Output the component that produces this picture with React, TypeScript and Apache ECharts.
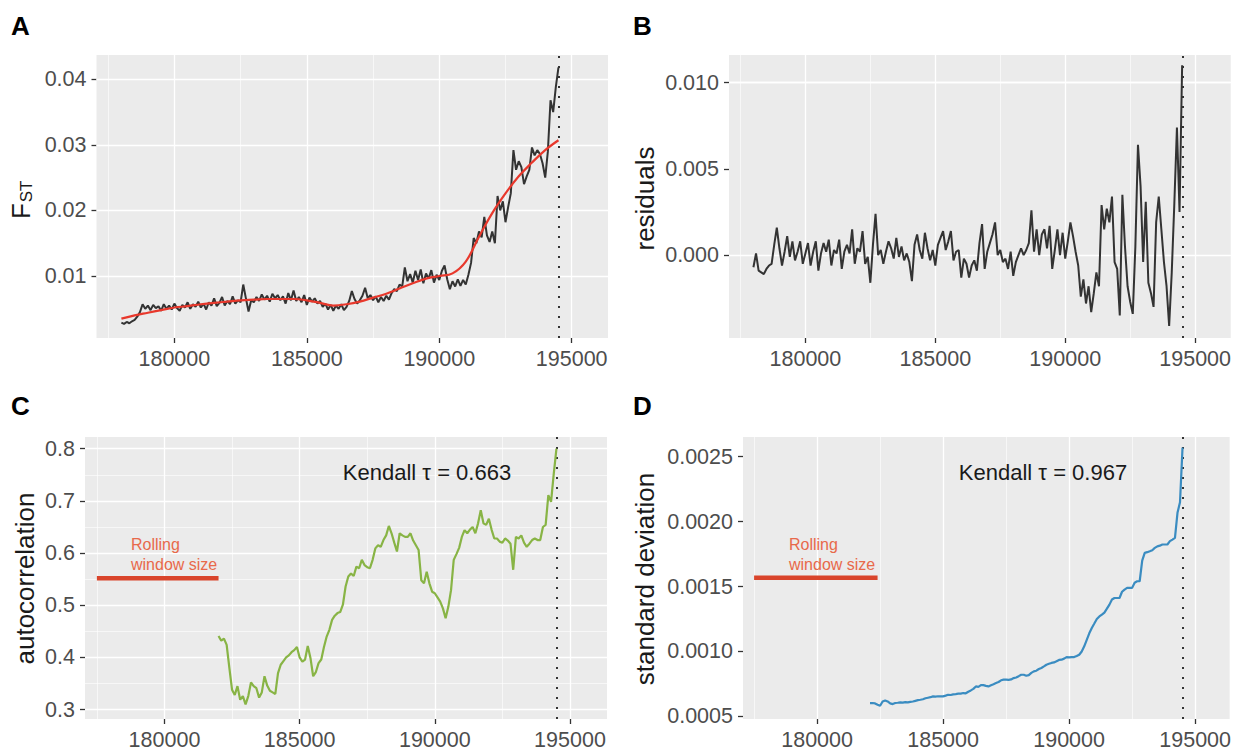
import React, { useEffect, useRef } from "react";
import * as echarts from "echarts";

// ---------- shared x axis ----------
const X_MIN = 177060;
const X_MAX = 196370;
const X_TICKS = [180000, 185000, 190000, 195000];
const X_MINOR = [177500, 182500, 187500, 192500];
const TIP_X = 194510;

// ---------- Panel A: FST ----------
const FST_START = 178000;
const FST_STEP = 100;
const FST = [
  0.0029, 0.0027, 0.003, 0.0028, 0.0031, 0.0033, 0.0038, 0.0045, 0.0057, 0.005,
  0.0055, 0.0048, 0.0056, 0.0051, 0.0054, 0.0047, 0.0057, 0.005, 0.0055, 0.0049,
  0.0058, 0.0051, 0.0047, 0.0056, 0.0052, 0.006, 0.005, 0.0057, 0.0053, 0.0061,
  0.0052, 0.0058, 0.0049, 0.006, 0.0055, 0.0066, 0.0054, 0.0059, 0.0068, 0.0055,
  0.0062, 0.0057, 0.0069, 0.0058, 0.0063, 0.006, 0.0087, 0.0066, 0.0046, 0.0063,
  0.006, 0.0068, 0.0062, 0.0072, 0.0064, 0.007, 0.0061, 0.0073, 0.0066, 0.0071,
  0.0063, 0.0069, 0.0058, 0.0074, 0.0063, 0.0078, 0.0062, 0.0068, 0.006, 0.0071,
  0.0056, 0.0067, 0.0061, 0.0066, 0.0058, 0.0062, 0.0053, 0.0058, 0.0049, 0.0056,
  0.0047, 0.0055, 0.005, 0.0057, 0.0048, 0.0053, 0.0062, 0.0077, 0.0065, 0.0058,
  0.0063, 0.007, 0.0082, 0.0066, 0.0071, 0.0063, 0.0069, 0.006, 0.0068, 0.0062,
  0.007, 0.0064, 0.0074, 0.008, 0.0077, 0.0087, 0.0084, 0.0113, 0.0092, 0.0103,
  0.009, 0.0108, 0.0094, 0.011, 0.0089, 0.0104, 0.0096, 0.0109, 0.009, 0.0102,
  0.0094, 0.0108, 0.0116, 0.0095, 0.008, 0.0092, 0.0084, 0.0095, 0.0085, 0.0094,
  0.0087, 0.0102, 0.012, 0.0158, 0.015, 0.0168, 0.0159, 0.019, 0.0162, 0.0152,
  0.0168, 0.015, 0.0222, 0.02, 0.0214, 0.0182, 0.0205, 0.0226, 0.0292, 0.0262,
  0.0275, 0.0266, 0.024, 0.0252, 0.0262, 0.0296, 0.0284, 0.0292, 0.0286, 0.0272,
  0.025, 0.029, 0.0368, 0.035, 0.0388, 0.0418,
];
const FST_SMOOTH_START = 178000;
const FST_SMOOTH_STEP = 500;
const FST_SMOOTH = [
  0.0035, 0.004, 0.0044, 0.0048, 0.0052, 0.0054, 0.0057, 0.0059, 0.0061, 0.0063,
  0.0064, 0.0065, 0.0065, 0.0065, 0.0063, 0.0059, 0.0055, 0.0057, 0.0061, 0.0067,
  0.0073, 0.0081, 0.0089, 0.0096, 0.01, 0.0104, 0.0122, 0.016, 0.0196, 0.0226,
  0.0252, 0.0273, 0.0292, 0.0307,
];
const FST_TICKS = [0.01, 0.02, 0.03, 0.04];
const FST_MINOR = [0.005, 0.015, 0.025, 0.035];

// ---------- Panel B: residuals ----------
const RESID_START = 178000;
const RESID_STEP = 100;
const RESID = [
  -0.0007, 0.0001, -0.0009, -0.001, -0.0011, -0.0008, -0.0006, -0.0005, 0.0006, 0.0016,
  0.0004, -0.0006, 0.0002, 0.0011, -0.0001, 0.0008, -0.0003, 0.0002, 0.0008, -0.0005,
  0.0001, 0.0007, -0.0006, 0.0002, 0.0008, -0.0009, 0.0001, 0.0007, 0.0002, 0.0009,
  -0.0006, 0.0003, 0.0001, 0.0009, -0.0008, 0.0002, 0.0006, 0.0001, 0.0015, -0.0005,
  0.0004, 0.0002, 0.0014, -0.0005, -0.0001, -0.0016, 0.0006, 0.0024, 0.0, 0.0003,
  -0.0005, 0.0002, 0.0008, 0.0004, -0.0002, 0.001, -0.0001, 0.0005, -0.0003, 0.0001,
  -0.0004, -0.0015, 0.0006, 0.0012, 0.0003, -0.0002, 0.0013, 0.0004, -0.0003, 0.0003,
  -0.0006, 0.0006, 0.001, 0.0014, 0.0003, 0.0008, 0.0014, -0.0003, 0.0002, 0.0003,
  -0.0013, -0.0002, -0.0005, -0.0013, -0.0006, -0.0003, -0.0009, 0.0007, 0.0018, -0.0008,
  0.0002, 0.0007, 0.0012, 0.0019, 0.0, 0.0003, -0.0004, -0.0002, -0.0008, 0.0002,
  -0.0012, -0.0004, 0.0, 0.0004, 0.0, 0.0003, 0.0007, 0.0026, 0.0002, 0.0015,
  0.0, 0.0012, 0.0015, 0.0004, 0.0017, -0.0008, 0.0003, 0.0015, 0.0, 0.0013,
  -0.0002, 0.0008, 0.0019, 0.0011, 0.0002, -0.0006, -0.0024, -0.0014, -0.0028, -0.0018,
  -0.0033, -0.0022, -0.001, -0.0018, 0.0029, 0.0015, 0.0027, 0.0019, 0.0034, -0.0004,
  -0.0008, -0.0035, 0.0035, 0.0005, -0.0018, -0.0027, -0.0034, 0.0005, 0.0064, 0.004,
  -0.0004, 0.0031, -0.0016, -0.0022, -0.003, 0.0019, 0.0034, 0.0015, -0.0004, -0.0018,
  -0.0041, -0.001, 0.003, 0.0074, 0.0025, 0.011,
];
const RESID_TICKS = [0, 0.005, 0.01];
const RESID_MINOR = [-0.0025, 0.0025, 0.0075];

// ---------- Panel C: autocorrelation ----------
const AC_START = 182000;
const AC_STEP = 100;
const AC = [
  0.441, 0.432, 0.436, 0.424, 0.38, 0.338, 0.328, 0.345, 0.319, 0.326,
  0.31, 0.326, 0.352, 0.345, 0.341, 0.323, 0.333, 0.364, 0.346, 0.336,
  0.333, 0.33, 0.37, 0.386, 0.393, 0.4, 0.404, 0.41, 0.414, 0.42,
  0.4, 0.392, 0.396, 0.422, 0.399, 0.364, 0.372, 0.389, 0.396, 0.42,
  0.44, 0.453, 0.472, 0.48, 0.485, 0.487, 0.501, 0.536, 0.555, 0.561,
  0.556, 0.574, 0.571, 0.587, 0.577, 0.573, 0.571, 0.587, 0.609, 0.615,
  0.612, 0.625, 0.634, 0.652, 0.638, 0.62, 0.603, 0.638, 0.634, 0.631,
  0.631, 0.638, 0.624, 0.615, 0.606, 0.548, 0.542, 0.564, 0.542, 0.526,
  0.523, 0.515, 0.507, 0.494, 0.475, 0.497, 0.529, 0.587, 0.598, 0.61,
  0.631, 0.644, 0.638, 0.645, 0.65, 0.638, 0.657, 0.682, 0.657, 0.654,
  0.666, 0.645, 0.628, 0.628, 0.622, 0.62, 0.628, 0.624, 0.618, 0.568,
  0.631, 0.628, 0.634, 0.62, 0.612, 0.618, 0.625, 0.628, 0.625, 0.625,
  0.65, 0.654, 0.711, 0.698, 0.752, 0.8,
];
const AC_TICKS = [0.3, 0.4, 0.5, 0.6, 0.7, 0.8];
const AC_MINOR = [0.35, 0.45, 0.55, 0.65, 0.75];
const AC_WINDOW_X = [177500, 182000];
const AC_WINDOW_Y = 0.552;
const AC_KENDALL = "Kendall \u03c4 = 0.663";

// ---------- Panel D: standard deviation ----------
const SD_START = 182100;
const SD_STEP = 100;
const SD = [
  0.000603, 0.000603, 0.0006, 0.00059, 0.000582, 0.000615, 0.000623, 0.000615, 0.0006,
  0.000595, 0.000603, 0.000605, 0.000608, 0.000606, 0.00061, 0.000608, 0.000612, 0.000615, 0.00062,
  0.000625, 0.000628, 0.000632, 0.00064, 0.000644, 0.000648, 0.000654, 0.000652, 0.000655, 0.000654,
  0.000654, 0.00066, 0.000667, 0.000665, 0.00067, 0.000672, 0.000675, 0.000675, 0.00068, 0.000678,
  0.00069, 0.0007, 0.000712, 0.000731, 0.000728, 0.000741, 0.000741, 0.000735, 0.000731, 0.00074,
  0.000748, 0.000757, 0.000765, 0.000778, 0.000783, 0.000783, 0.000782, 0.000785, 0.000795, 0.0008,
  0.00081, 0.000821, 0.000821, 0.000813, 0.000818, 0.000835, 0.000847, 0.000852, 0.000865, 0.000873,
  0.000885, 0.000898, 0.000905, 0.000912, 0.000916, 0.000925, 0.000935, 0.000937, 0.000945, 0.000957,
  0.000955, 0.000957, 0.000957, 0.000965, 0.000975, 0.001, 0.00104, 0.00109, 0.00114, 0.001181,
  0.001215, 0.00125, 0.00127, 0.001284, 0.0013, 0.00133, 0.001361, 0.0014, 0.001412, 0.001412,
  0.001412, 0.00146, 0.001477, 0.00149, 0.00149, 0.00149, 0.00153, 0.001541, 0.001541, 0.0017,
  0.00176, 0.001765, 0.001772, 0.00178, 0.001798, 0.00181, 0.001815, 0.001824, 0.001824, 0.001824,
  0.00185, 0.001862, 0.001875, 0.002068, 0.00215, 0.00257,
];
const SD_TICKS = [0.0005, 0.001, 0.0015, 0.002, 0.0025];
const SD_MINOR = [0.00075, 0.00125, 0.00175, 0.00225];
const SD_WINDOW_X = [177500, 182400];
const SD_WINDOW_Y = 0.001567;
const SD_KENDALL = "Kendall \u03c4 = 0.967";

const FONT = "'Liberation Sans', Arial, Helvetica, sans-serif";
const BG = "#EBEBEB";
const LABEL_COLOR = "#4D4D4D";
const TITLE_COLOR = "#1A1A1A";

function pairs(start: number, step: number, values: number[]) {
  return values.map((v, i) => [start + i * step, v]);
}

function gridLines(yTicks: number[], yMinor: number[]) {
  return {
    silent: true,
    symbol: ["none", "none"],
    label: { show: false },
    z: 1,
    animation: false,
    lineStyle: { color: "#FFFFFF", type: "solid", width: 1.3 },
    emphasis: { disabled: true },
    data: [
      ...X_MINOR.map((v) => ({ xAxis: v, lineStyle: { color: "#FFFFFF", width: 0.6, type: "solid" } })),
      ...yMinor.map((v) => ({ yAxis: v, lineStyle: { color: "#FFFFFF", width: 0.6, type: "solid" } })),
      ...X_TICKS.map((v) => ({ xAxis: v, lineStyle: { color: "#FFFFFF", width: 1.3, type: "solid" } })),
      ...yTicks.map((v) => ({ yAxis: v, lineStyle: { color: "#FFFFFF", width: 1.3, type: "solid" } })),
      { xAxis: TIP_X, lineStyle: { color: "#333333", width: 2, type: [2, 8] } },
    ],
  };
}

const PANELS = [
  { grid: { left: 96.5, top: 55, width: 511.5, height: 283 }, yMin: 0.00055, yMax: 0.0437, yTicks: FST_TICKS, yMinor: FST_MINOR, digits: 2 },
  { grid: { left: 729, top: 55, width: 507, height: 283 }, yMin: -0.0048, yMax: 0.0116, yTicks: RESID_TICKS, yMinor: RESID_MINOR, digits: 3 },
  { grid: { left: 85, top: 437, width: 522, height: 282 }, yMin: 0.282, yMax: 0.8225, yTicks: AC_TICKS, yMinor: AC_MINOR, digits: 1 },
  { grid: { left: 743, top: 437, width: 495, height: 282 }, yMin: 0.00048, yMax: 0.002652, yTicks: SD_TICKS, yMinor: SD_MINOR, digits: 4 },
];

function buildOption() {
  const grid = PANELS.map((p) => ({
    ...p.grid,
    show: true,
    backgroundColor: BG,
    borderWidth: 0,
    containLabel: false,
  }));
  const xAxis = PANELS.map((_, i) => ({
    type: "value",
    gridIndex: i,
    min: X_MIN,
    max: X_MAX,
    axisLine: { show: false, onZero: false },
    axisTick: { show: true, length: 5, customValues: X_TICKS, lineStyle: { color: "#333333", width: 1.3 } },
    axisLabel: {
      customValues: X_TICKS,
      margin: 10,
      fontSize: 21.5,
      color: LABEL_COLOR,
      fontFamily: FONT,
      formatter: (v: number) => String(v),
    },
    splitLine: { show: false },
  }));
  const yAxis = PANELS.map((p, i) => ({
    type: "value",
    gridIndex: i,
    min: p.yMin,
    max: p.yMax,
    axisLine: { show: false, onZero: false },
    axisTick: { show: true, length: 5, customValues: p.yTicks, lineStyle: { color: "#333333", width: 1.3 } },
    axisLabel: {
      customValues: p.yTicks,
      margin: 10,
      fontSize: 21.5,
      color: LABEL_COLOR,
      fontFamily: FONT,
      formatter: (v: number) => v.toFixed(p.digits),
    },
    splitLine: { show: false },
  }));

  const baseLine = (color: string, width: number) => ({
    type: "line",
    showSymbol: false,
    symbol: "none",
    silent: true,
    lineStyle: { color, width },
    emphasis: { disabled: true },
    z: 10,
  });

  const series: any[] = [
    {
      ...baseLine("#333333", 2),
      name: "FST",
      xAxisIndex: 0,
      yAxisIndex: 0,
      data: pairs(FST_START, FST_STEP, FST),
      markLine: gridLines(FST_TICKS, FST_MINOR),
    },
    {
      ...baseLine("#E8382C", 2.2),
      name: "FST smooth",
      xAxisIndex: 0,
      yAxisIndex: 0,
      smooth: 0.4,
      z: 11,
      data: pairs(FST_SMOOTH_START, FST_SMOOTH_STEP, FST_SMOOTH),
    },
    {
      ...baseLine("#333333", 2),
      name: "residuals",
      xAxisIndex: 1,
      yAxisIndex: 1,
      data: pairs(RESID_START, RESID_STEP, RESID),
      markLine: gridLines(RESID_TICKS, RESID_MINOR),
    },
    {
      ...baseLine("#88B445", 2.2),
      name: "autocorrelation",
      xAxisIndex: 2,
      yAxisIndex: 2,
      data: pairs(AC_START, AC_STEP, AC),
      markLine: gridLines(AC_TICKS, AC_MINOR),
    },
    {
      ...baseLine("#D9442B", 4.5),
      name: "window C",
      xAxisIndex: 2,
      yAxisIndex: 2,
      z: 11,
      data: AC_WINDOW_X.map((x) => [x, AC_WINDOW_Y]),
    },
    {
      ...baseLine("#3A8CC1", 2.2),
      name: "standard deviation",
      xAxisIndex: 3,
      yAxisIndex: 3,
      data: pairs(SD_START, SD_STEP, SD),
      markLine: gridLines(SD_TICKS, SD_MINOR),
    },
    {
      ...baseLine("#D9442B", 4.5),
      name: "window D",
      xAxisIndex: 3,
      yAxisIndex: 3,
      z: 11,
      data: SD_WINDOW_X.map((x) => [x, SD_WINDOW_Y]),
    },
  ];

  const letter = (t: string, x: number, y: number) => ({
    type: "text",
    x,
    y,
    z: 100,
    silent: true,
    style: { text: t, fontSize: 26, fontWeight: "bold", fontFamily: FONT, fill: "#000000", align: "left", verticalAlign: "middle" },
  });
  const yTitle = (t: string, x: number, y: number, size = 26) => ({
    type: "text",
    x,
    y,
    z: 100,
    rotation: Math.PI / 2,
    silent: true,
    style: { text: t, fontSize: size, fontFamily: FONT, fill: TITLE_COLOR, align: "center", verticalAlign: "middle" },
  });
  const note = (t: string, x: number, y: number) => ({
    type: "text",
    x,
    y,
    z: 100,
    silent: true,
    style: { text: t, fontSize: 22, fontFamily: FONT, fill: TITLE_COLOR, align: "center", verticalAlign: "middle" },
  });
  const rolling = (x: number, y: number) => ({
    type: "text",
    x,
    y,
    z: 100,
    silent: true,
    style: {
      text: "Rolling\nwindow size",
      fontSize: 16,
      lineHeight: 20,
      fontFamily: FONT,
      fill: "#E8694A",
      align: "left",
      verticalAlign: "middle",
    },
  });

  const graphic = [
    letter("A", 11, 26),
    letter("B", 633, 26),
    letter("C", 11, 406),
    letter("D", 633, 406),
    yTitle("F", 21, 211, 26),
    yTitle("ST", 26.5, 191.5, 17),
    yTitle("residuals", 645, 198.5),
    yTitle("autocorrelation", 25, 578.5),
    yTitle("standard deviation", 645, 579),
    note(AC_KENDALL, 427, 472),
    note(SD_KENDALL, 1043, 472),
    rolling(131, 554),
    rolling(789, 554),
  ];

  return {
    animation: false,
    backgroundColor: "#FFFFFF",
    textStyle: { fontFamily: FONT },
    grid,
    xAxis,
    yAxis,
    series,
    graphic,
  };
}

export default function App() {
  const ref = useRef<HTMLDivElement>(null);
  useEffect(() => {
    if (!ref.current) return;
    const chart = echarts.init(ref.current, null, { renderer: "svg" });
    chart.setOption(buildOption() as any);
    return () => chart.dispose();
  }, []);
  return (
    <div
      ref={ref}
      style={{ position: "absolute", left: 0, top: 0, width: 1234, height: 752, background: "#FFFFFF" }}
    />
  );
}
